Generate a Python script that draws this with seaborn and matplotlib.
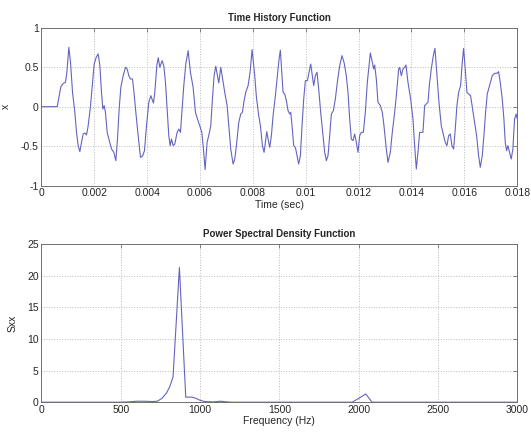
import matplotlib
matplotlib.use("Agg")
import matplotlib.pyplot as plt
import numpy as np
import pandas as pd
import seaborn as sns

# time history (time in ms, amplitude)
time_ms = [
    0.0, 0.597, 0.660, 0.736, 0.824, 0.912, 0.963, 1.038, 1.101, 1.177,
    1.265, 1.328, 1.391, 1.454, 1.517, 1.580, 1.643, 1.706, 1.769, 1.858,
    1.933, 1.996, 2.072, 2.147, 2.211, 2.273, 2.324, 2.374, 2.425, 2.488,
    2.551, 2.651, 2.740, 2.816, 2.878, 2.941, 3.005, 3.093, 3.181, 3.244,
    3.307, 3.370, 3.445, 3.496, 3.572, 3.660, 3.748, 3.823, 3.899, 3.975,
    4.063, 4.139, 4.239, 4.290, 4.366, 4.420, 4.479, 4.567, 4.630, 4.693,
    4.756, 4.819, 4.870, 4.920, 4.983, 5.046, 5.134, 5.197, 5.260, 5.323,
    5.386, 5.462, 5.550, 5.638, 5.739, 5.827, 5.903, 5.991, 6.067, 6.130,
    6.193, 6.268, 6.344, 6.407, 6.470, 6.533, 6.596, 6.659, 6.710, 6.785,
    6.836, 6.936, 7.025, 7.088, 7.163, 7.252, 7.315, 7.377, 7.466, 7.541,
    7.604, 7.667, 7.730, 7.819, 7.894, 7.970, 8.071, 8.134, 8.222, 8.285,
    8.360, 8.424, 8.487, 8.525, 8.575, 8.638, 8.701, 8.764, 8.852, 8.928,
    8.990, 9.040, 9.142, 9.205, 9.268, 9.331, 9.394, 9.432, 9.482, 9.545,
    9.608, 9.671, 9.734, 9.797, 9.860, 9.923, 9.986, 10.062, 10.125, 10.188,
    10.251, 10.301, 10.364, 10.427, 10.490, 10.566, 10.642, 10.717, 10.780, 10.843,
    10.906, 10.969, 11.045, 11.120, 11.196, 11.284, 11.372, 11.448, 11.536, 11.599,
    11.662, 11.725, 11.788, 11.851, 11.914, 11.977, 12.040, 12.103, 12.179, 12.255,
    12.330, 12.393, 12.444, 12.507, 12.570, 12.608, 12.670, 12.733, 12.822, 12.897,
    12.960, 13.048, 13.112, 13.200, 13.275, 13.364, 13.439, 13.515, 13.553, 13.616,
    13.679, 13.742, 13.792, 13.868, 13.969, 14.057, 14.120, 14.183, 14.246, 14.309,
    14.372, 14.435, 14.498, 14.561, 14.624, 14.687, 14.750, 14.826, 14.889, 14.964,
    15.040, 15.128, 15.216, 15.279, 15.342, 15.405, 15.468, 15.531, 15.594, 15.657,
    15.720, 15.784, 15.859, 15.922, 15.972, 16.035, 16.098, 16.161, 16.237, 16.313,
    16.388, 16.464, 16.540, 16.603, 16.678, 16.741, 16.804, 16.867, 16.955, 17.056,
    17.144, 17.233, 17.296, 17.359, 17.434, 17.497, 17.548, 17.598, 17.648, 17.711,
    17.774, 17.837, 17.900, 17.962, 18.000,
]
amplitude = [
    0.0, 0.0, 0.118, 0.253, 0.295, 0.308, 0.435, 0.751, 0.561, 0.181,
    -0.072, -0.325, -0.494, -0.570, -0.451, -0.346, -0.333, -0.359, -0.241, 0.013,
    0.308, 0.540, 0.624, 0.667, 0.519, 0.181, -0.030, 0.013, -0.080, -0.325,
    -0.409, -0.536, -0.578, -0.684, -0.409, -0.030, 0.245, 0.392, 0.498, 0.477,
    0.392, 0.350, 0.350, 0.203, -0.072, -0.367, -0.641, -0.629, -0.557, -0.241,
    0.055, 0.139, 0.046, 0.181, 0.519, 0.620, 0.498, 0.582, 0.519, 0.308,
    -0.030, -0.367, -0.494, -0.409, -0.494, -0.473, -0.325, -0.283, -0.325, -0.030,
    0.266, 0.540, 0.709, 0.435, 0.245, -0.072, -0.156, -0.241, -0.325, -0.536,
    -0.797, -0.451, -0.346, -0.241, 0.097, 0.392, 0.511, 0.392, 0.300, 0.498,
    0.392, 0.181, 0.013, -0.241, -0.536, -0.726, -0.662, -0.494, -0.198, -0.093,
    -0.072, 0.076, 0.181, 0.266, 0.435, 0.722, 0.392, 0.118, -0.114, -0.241,
    -0.494, -0.578, -0.409, -0.316, -0.409, -0.515, -0.367, -0.114, 0.139, 0.392,
    0.600, 0.715, 0.181, 0.160, 0.076, -0.051, -0.093, -0.072, -0.241, -0.494,
    -0.515, -0.620, -0.726, -0.620, -0.241, 0.097, 0.329, 0.329, 0.435, 0.540,
    0.392, 0.266, 0.392, 0.435, 0.224, -0.072, -0.325, -0.578, -0.684, -0.620,
    -0.367, -0.093, -0.051, 0.097, 0.308, 0.519, 0.646, 0.561, 0.392, 0.181,
    -0.156, -0.409, -0.430, -0.346, -0.451, -0.578, -0.367, -0.325, -0.325, -0.072,
    0.308, 0.519, 0.679, 0.582, 0.477, 0.527, 0.350, 0.055, 0.013, -0.072,
    -0.241, -0.536, -0.705, -0.578, -0.325, -0.072, 0.181, 0.477, 0.498, 0.392,
    0.477, 0.498, 0.527, 0.308, 0.097, -0.156, -0.494, -0.789, -0.578, -0.325,
    -0.325, -0.325, 0.013, 0.034, 0.055, 0.308, 0.477, 0.646, 0.738, 0.392,
    0.055, -0.241, -0.367, -0.451, -0.494, -0.367, -0.346, -0.494, -0.536, -0.283,
    0.013, 0.181, 0.266, 0.561, 0.738, 0.477, 0.181, 0.160, 0.139, -0.030,
    -0.198, -0.367, -0.620, -0.768, -0.620, -0.367, -0.072, 0.160, 0.266, 0.392,
    0.422, 0.422, 0.443, 0.308, 0.097, -0.156, -0.451, -0.557, -0.494, -0.578,
    -0.662, -0.536, -0.156, -0.093, -0.156,
]

# power spectral density
freq_hz = [
    0, 500, 550, 600, 650, 700, 730, 760, 790, 810, 830, 870, 910, 950,
    975, 1000, 1030, 1080, 1130, 1170, 1200, 1960, 2000, 2045, 2085, 3000,
]
sxx = [
    0, 0, 0.05, 0.15, 0.15, 0.1, 0.15, 0.6, 1.5, 2.5, 4.0, 21.3, 0.8, 0.8,
    0.6, 0.3, 0.1, 0.05, 0.15, 0.05, 0, 0, 0.6, 1.3, 0, 0,
]

top_xticks = [0, 0.002, 0.004, 0.006, 0.008, 0.01, 0.012, 0.014, 0.016, 0.018]
top_xtick_labels = ["0", "0.002", "0.004", "0.006", "0.008", "0.01",
                    "0.012", "0.014", "0.016", "0.018"]
top_yticks = [-1, -0.5, 0, 0.5, 1]
top_ytick_labels = ["-1", "-0.5", "0", "0.5", "1"]
bot_xticks = [0, 500, 1000, 1500, 2000, 2500, 3000]
bot_yticks = [0, 5, 10, 15, 20, 25]

line_color = "#6464c0"

sns.set_style("white")
plt.rcParams["font.family"] = ["Liberation Sans", "DejaVu Sans"]
plt.rcParams["font.size"] = 7.5
plt.rcParams["xtick.direction"] = "in"
plt.rcParams["ytick.direction"] = "in"

df_time = pd.DataFrame({"t": np.array(time_ms) / 1000.0, "x": amplitude})
df_psd = pd.DataFrame({"f": freq_hz, "sxx": sxx})

fig, (ax1, ax2) = plt.subplots(2, 1, figsize=(5.31, 4.32), dpi=100)
fig.subplots_adjust(left=0.078, right=0.974, top=0.936, bottom=0.069, hspace=0.37)


def style_axes(ax):
    ax.grid(True, linestyle=":", color="#bcbcbc", linewidth=0.7)
    for sp in ax.spines.values():
        sp.set_visible(True)
        sp.set_color("#707070")
        sp.set_linewidth(0.7)
    ax.tick_params(axis="both", which="both", top=True, right=True,
                   length=3, width=0.6, color="#707070", labelsize=7.5, pad=2)


sns.lineplot(data=df_time, x="t", y="x", ax=ax1, color=line_color,
             linewidth=0.8, estimator=None, sort=False)
ax1.set_xlim(0, 0.018)
ax1.set_ylim(-1, 1)
ax1.set_xticks(top_xticks)
ax1.set_xticklabels(top_xtick_labels)
ax1.set_yticks(top_yticks)
ax1.set_yticklabels(top_ytick_labels)
ax1.set_title("Time History Function", fontsize=7, fontweight="bold", pad=5)
ax1.set_xlabel("Time (sec)", fontsize=7.5, labelpad=1)
ax1.set_ylabel("x", fontsize=7.5, labelpad=7)
style_axes(ax1)

sns.lineplot(data=df_psd, x="f", y="sxx", ax=ax2, color=line_color,
             linewidth=0.8, estimator=None, sort=False, clip_on=False)
ax2.set_xlim(0, 3000)
ax2.set_ylim(0, 25)
ax2.set_xticks(bot_xticks)
ax2.set_yticks(bot_yticks)
ax2.set_title("Power Spectral Density Function", fontsize=7, fontweight="bold", pad=5)
ax2.set_xlabel("Frequency (Hz)", fontsize=7.5, labelpad=1)
ax2.set_ylabel("Sxx", fontsize=7.5, labelpad=7)
style_axes(ax2)

fig.savefig("out.png", dpi=100)
